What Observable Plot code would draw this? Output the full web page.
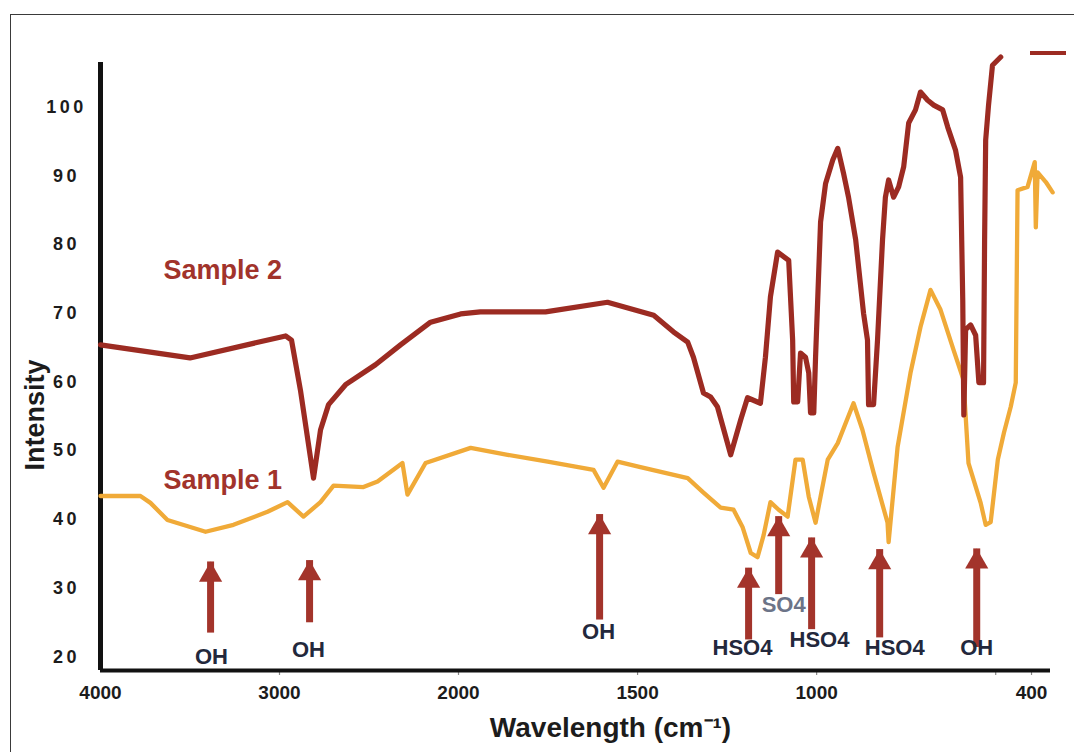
<!DOCTYPE html>
<html><head><meta charset="utf-8">
<script src="https://cdn.jsdelivr.net/npm/d3@7"></script>
<script src="https://cdn.jsdelivr.net/npm/@observablehq/plot@0.6"></script>
<style>
html,body{margin:0;padding:0;background:#fff;}
#wrap{position:relative;width:1074px;height:752px;overflow:hidden;font-family:"Liberation Sans",Arial,sans-serif;}
#wrap svg{position:absolute;left:0;top:0;}
#border{position:absolute;left:10px;top:14px;width:1080px;height:760px;border:1.5px solid #3a3a3a;box-sizing:border-box;pointer-events:none;}
#legendSwatch{position:absolute;left:1030px;top:51px;width:36px;height:4px;background:#9c2b22;}
[aria-label="y-axis tick label"] text{letter-spacing:3.5px;}
[aria-label="band labels"] text{letter-spacing:1.5px;}
[aria-label="x title"] text{letter-spacing:0.6px;}
</style></head><body>
<div id="wrap"></div>
<script>
// Sample 2 (upper, dark red)
const s2Wavenumber = [4000,3500,2966,2933,2883,2810,2771,2726,2631,2464,2324,2156,1994,1939,1757,1584,1455,1400,1360,1344,1316,1296,1277,1240,1212,1193,1157,1143,1129,1109,1078,1067,1064,1053,1045,1031,1022,1017,1008,1003,989,975,955,941,925,911,891,869,858,855,841,830,816,808,799,785,771,757,743,724,710,690,673,648,634,612,598,592,589,584,570,556,547,534,531,528,520,509,486];
const s2Intensity = [65.4,63.5,66.7,66.1,58.8,46.0,53.0,56.7,59.6,62.5,65.4,68.7,69.9,70.2,70.2,71.6,69.7,67.3,65.8,63.6,58.4,57.8,56.4,49.4,54.5,57.7,56.9,63.6,72.4,78.9,77.7,66.1,57.1,57.1,64.2,63.6,61.3,55.5,55.5,63.6,83.3,88.9,92.3,94.0,90.4,86.9,80.7,70.0,66.1,56.7,56.7,66.1,80.7,86.9,89.4,86.9,88.4,91.3,97.7,99.6,102.2,101.0,100.3,99.6,97.1,93.7,89.8,71.9,55.2,67.6,68.3,66.8,59.9,59.9,80.7,95.2,100.3,106.1,107.3];
// Sample 1 (lower, orange)
const s1Wavenumber = [4000,3777,3721,3626,3413,3257,3067,2955,2866,2771,2698,2531,2452,2313,2285,2184,1966,1863,1751,1623,1595,1556,1492,1360,1316,1268,1232,1207,1184,1165,1148,1129,1106,1081,1059,1039,1022,1003,989,969,941,897,872,841,802,799,774,738,710,682,654,618,590,576,542,528,514,494,477,458,444,439,411,391,388,383,360,341];
const s1Intensity = [43.4,43.4,42.4,39.9,38.2,39.2,41.1,42.5,40.4,42.5,44.9,44.7,45.5,48.2,43.6,48.2,50.4,49.4,48.4,47.2,44.6,48.4,47.6,46.0,43.9,41.7,41.4,38.9,35.1,34.5,37.7,42.5,41.4,40.4,48.7,48.7,43.3,39.5,43.3,48.7,51.1,56.9,53.0,46.8,39.5,36.7,50.5,61.3,68.0,73.4,70.5,64.7,60.3,48.2,42.4,39.2,39.6,48.7,52.6,56.4,59.9,87.9,88.4,92.0,82.5,90.5,89.1,87.6];
// Band assignment arrows
const arrowWavenumber = [3385,2832,1606,1190,1106,1014,824,553];
const arrowTip = [33.8,34.0,40.7,32.9,40.4,37.3,35.6,35.7];
const arrowBase = [24.9,26.4,26.8,23.9,30.5,25.4,24.2,22.8];
const labelText = ["OH","OH","OH","HSO4","SO4","HSO4","HSO4","OH"];
const labelWavenumber = [3380,2838,1609,1207,1092,992,782,553];
const labelIntensity = [19.9,21.0,23.6,21.3,27.6,22.5,21.3,21.3];
// Series labels
const seriesNames = ["Sample 2","Sample 1"];
const seriesLabelWavenumber = [3648,3648];
const seriesLabelIntensity = [76.3,45.7];
// Axes
const xTicks = [4000,3000,2000,1500,1000,400];
const xMinorTicks = [3000,2000,1500,1000,500,400];
const yTicks = [20,30,40,50,60,70,80,90,100];
const xDomain = [4000,2000,347];
const yDomain = [18,106.5];
const yTitle = "Intensity";
const yTitleAt = [4363, 55.2];
const xTitle = "Wavelength (cm⁻¹)";

const s2 = s2Wavenumber.map((x,i)=>({x, y:s2Intensity[i]}));
const s1 = s1Wavenumber.map((x,i)=>({x, y:s1Intensity[i]}));
const arrows = arrowWavenumber.map((x,i)=>({x, tip:arrowTip[i], base:arrowBase[i]}));
const labels = labelText.map((t,i)=>({text:t, x:labelWavenumber[i], y:labelIntensity[i]}));
const series = seriesNames.map((t,i)=>({text:t, x:seriesLabelWavenumber[i], y:seriesLabelIntensity[i]}));

const RED = "#9c2b22", ORANGE = "#f0aa38", ARROW = "#a3342b", INK = "#1c1c1c";

const chart = Plot.plot({
  width: 1074, height: 752,
  marginLeft: 100, marginRight: 24, marginTop: 62, marginBottom: 82,
  style: {fontFamily: "'Liberation Sans', Arial, sans-serif", background: "transparent", overflow: "visible"},
  x: {type: "linear", domain: xDomain, range: [100, 458, 1050]},
  y: {domain: yDomain},
  marks: [
    Plot.axisX({ticks: xMinorTicks, tickSize: 5, text: null, label: null, stroke: "#888", strokeWidth: 1.2}),
    Plot.axisX({ticks: xTicks, tickSize: 0, tickPadding: 15, tickFormat: d => String(d), fontSize: 19, fontWeight: "bold", fill: INK, label: null}),
    Plot.axisY({ticks: yTicks, tickSize: 0, tickPadding: 34, textAnchor: "middle", fontSize: 18, fontWeight: "bold", fill: INK, label: null}),
    Plot.ruleY([yDomain[0]], {x1: xDomain[0], x2: xDomain[2], stroke: "#111", strokeWidth: 4}),
    Plot.ruleX([xDomain[0]], {y1: yDomain[0], y2: yDomain[1], stroke: "#111", strokeWidth: 5}),
    Plot.line(s1, {x: "x", y: "y", stroke: ORANGE, strokeWidth: 4.3, strokeLinejoin: "round"}),
    Plot.line(s2, {x: "x", y: "y", stroke: RED, strokeWidth: 5.2, strokeLinejoin: "round"}),
    Plot.ruleX(arrows, {x: "x", y1: "base", y2: "tip", stroke: ARROW, strokeWidth: 7, insetTop: 10}),
    Plot.dot(arrows, {x: "x", y: "tip", symbol: "triangle", r: 8.6, fill: ARROW, stroke: null, dy: 13}),
    Plot.text(labels, {x: "x", y: "y", text: "text", fontSize: 22, fontWeight: "bold", fill: d => d.text === "SO4" ? "#6c7488" : "#23283c", ariaLabel: "band labels"}),
    Plot.text(series, {x: "x", y: "y", text: "text", textAnchor: "start", fontSize: 27, fontWeight: "bold", fill: "#a1332b"}),
    Plot.text([yTitle], {x: () => yTitleAt[0], y: () => yTitleAt[1], text: d => d, rotate: -90, fontSize: 27, fontWeight: "bold", fill: INK}),
    Plot.text([xTitle], {frameAnchor: "bottom", dx: 35, dy: 66, fontSize: 28, fontWeight: "bold", fill: INK, ariaLabel: "x title"})
  ]
});
const wrap = document.getElementById("wrap");
wrap.appendChild(chart);
const border = document.createElement("div"); border.id = "border"; wrap.appendChild(border);
const sw = document.createElement("div"); sw.id = "legendSwatch"; wrap.appendChild(sw);
</script>
</body></html>
